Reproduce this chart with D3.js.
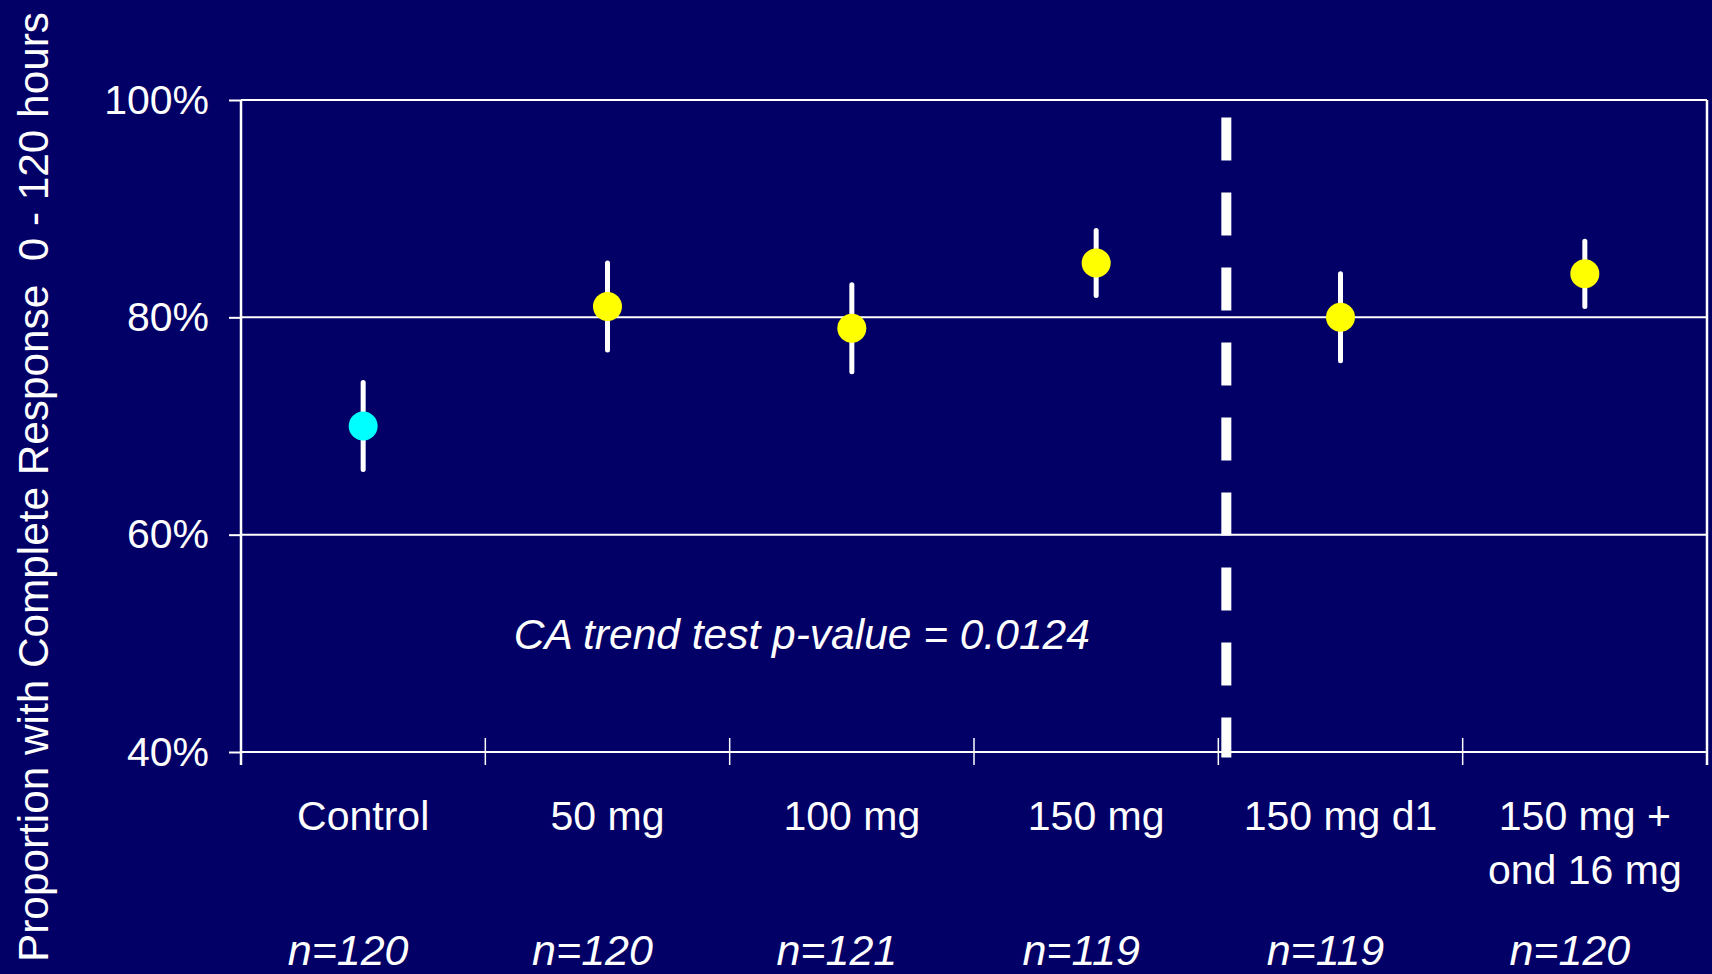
<!DOCTYPE html>
<html>
<head>
<meta charset="utf-8">
<script src="https://cdn.jsdelivr.net/npm/d3@7/dist/d3.min.js"></script>
<style>
  html, body { margin: 0; padding: 0; background: #020066; }
  svg { display: block; }
  text { font-family: "Liberation Sans", Arial, sans-serif; fill: #ffffff; }
</style>
</head>
<body>
<svg id="chart" width="1712" height="974"></svg>
<script>
// ---- data ----
const categories = ["Control", "50 mg", "100 mg", "150 mg", "150 mg d1", "150 mg + ond 16 mg"];
const categoryLines = [["Control"], ["50 mg"], ["100 mg"], ["150 mg"], ["150 mg d1"], ["150 mg +", "ond 16 mg"]];
const proportion = [70, 81, 79, 85, 80, 84];
const lowerCI = [66, 77, 75, 82, 76, 81];
const upperCI = [74, 85, 83, 88, 84, 87];
const sampleSizes = [120, 120, 121, 119, 119, 120];
const yTicks = [40, 60, 80, 100];
const yTitle = "Proportion with Complete Response  0 - 120 hours";
const annotation = "CA trend test p-value = 0.0124";
const separatorAfter = "150 mg";

// ---- layout ----
const W = 1712, H = 974;
const svg = d3.select("#chart");
svg.append("rect").attr("width", W).attr("height", H).attr("fill", "#020066");

const x = d3.scaleBand().domain(categories).range([241, 1707]).padding(0);
const y = d3.scaleLinear().domain([40, 100]).range([752, 100]);
const color = d3.scaleOrdinal().domain(["Control"]).range(["#00ffff"]).unknown("#ffff00");
const cx = c => x(c) + x.bandwidth() / 2;

const data = categories.map((c, i) => ({
  cat: c, lines: categoryLines[i], v: proportion[i], lo: lowerCI[i], hi: upperCI[i], n: sampleSizes[i]
}));

// gridlines (including top border)
svg.append("g").selectAll("line")
  .data(yTicks.filter(t => t > 40))
  .join("line")
  .attr("x1", x.range()[0]).attr("x2", x.range()[1])
  .attr("y1", d => y(d)).attr("y2", d => y(d))
  .attr("stroke", "#ffffff").attr("stroke-width", 2);

// y axis
const yAxis = svg.append("g")
  .attr("transform", `translate(${x.range()[0]},0)`)
  .call(d3.axisLeft(y).tickValues(yTicks).tickFormat(d => d + "%").tickSize(12).tickPadding(20));
yAxis.select(".domain").remove();
yAxis.selectAll(".tick line").attr("stroke", "#fff").attr("stroke-width", 2);
yAxis.selectAll(".tick text")
  .attr("fill", "#fff").style("font-size", "41px")
  .style("font-family", '"Liberation Sans", Arial, sans-serif');

// x axis baseline
svg.append("line")
  .attr("x1", x.range()[0]).attr("x2", x.range()[1])
  .attr("y1", y(40)).attr("y2", y(40))
  .attr("stroke", "#fff").attr("stroke-width", 2);

// vertical borders and x ticks at band boundaries
const bounds = categories.map(c => x(c)).concat([x.range()[1]]);
svg.append("g").selectAll("line")
  .data(bounds)
  .join("line")
  .attr("x1", d => d).attr("x2", d => d)
  .attr("y1", (d, i) => (i === 0 || i === bounds.length - 1) ? y(100) : y(40) - 14)
  .attr("y2", y(40) + 13)
  .attr("stroke", "#fff")
  .attr("stroke-width", (d, i) => (i === 0 || i === bounds.length - 1) ? 2.5 : 1.5);

// dashed separator
const sepX = x(separatorAfter) + x.bandwidth() + 8;
svg.append("line")
  .attr("x1", sepX).attr("x2", sepX)
  .attr("y1", y(98.4)).attr("y2", y(39.5))
  .attr("stroke", "#fff").attr("stroke-width", 10)
  .attr("stroke-dasharray", "43,32");

// error bars
svg.append("g").selectAll("line")
  .data(data)
  .join("line")
  .attr("x1", d => cx(d.cat)).attr("x2", d => cx(d.cat))
  .attr("y1", d => y(d.hi)).attr("y2", d => y(d.lo))
  .attr("stroke", "#fff").attr("stroke-width", 5).attr("stroke-linecap", "round");

// points
svg.append("g").selectAll("circle")
  .data(data)
  .join("circle")
  .attr("cx", d => cx(d.cat))
  .attr("cy", d => y(d.v))
  .attr("r", 14.5)
  .attr("fill", d => color(d.cat));

// category labels
const catG = svg.append("g").selectAll("text")
  .data(data)
  .join("text")
  .attr("x", d => cx(d.cat))
  .attr("y", 830)
  .attr("text-anchor", "middle")
  .style("font-size", "41px");
catG.selectAll("tspan")
  .data(d => d.lines.map(l => ({ l, c: cx(d.cat) })))
  .join("tspan")
  .attr("x", t => t.c)
  .attr("dy", (t, i) => i === 0 ? 0 : 54)
  .text(t => t.l);

// n labels
svg.append("g").selectAll("text")
  .data(data)
  .join("text")
  .attr("x", d => cx(d.cat) - 15)
  .attr("y", 965)
  .attr("text-anchor", "middle")
  .style("font-size", "43px")
  .style("font-style", "italic")
  .text(d => "n=" + d.n);

// annotation
svg.append("text")
  .attr("x", cx("100 mg") - 50)
  .attr("y", y(49.5))
  .attr("text-anchor", "middle")
  .style("font-size", "42.5px")
  .style("font-style", "italic")
  .text(annotation);

// y title
svg.append("text")
  .attr("transform", "translate(48,487) rotate(-90)")
  .attr("text-anchor", "middle")
  .attr("xml:space", "preserve")
  .style("white-space", "pre")
  .style("font-size", "42.3px")
  .text(yTitle);
</script>
</body>
</html>
